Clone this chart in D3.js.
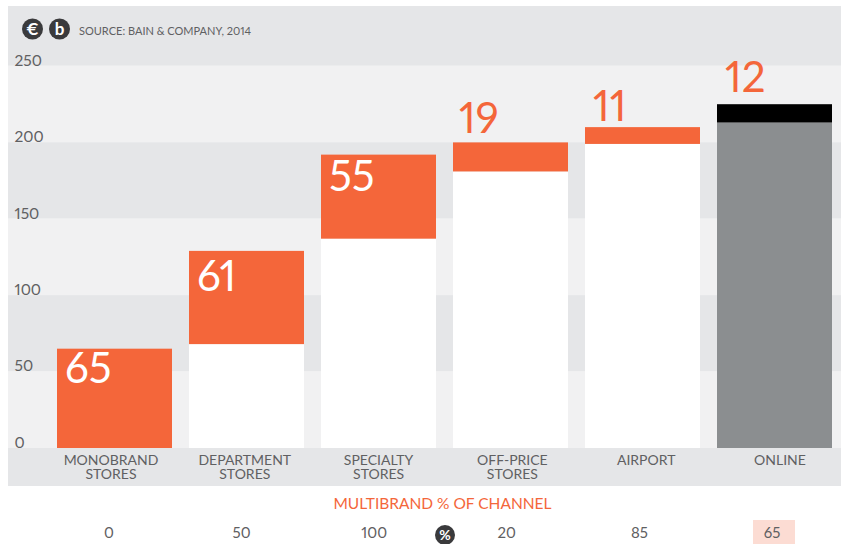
<!DOCTYPE html>
<html>
<head>
<meta charset="utf-8">
<script src="https://cdnjs.cloudflare.com/ajax/libs/d3/7.8.5/d3.min.js"></script>
<style>
  html, body { margin: 0; padding: 0; background: #fff; }
  svg { display: block; }
  text { font-family: Lato, "Open Sans", sans-serif; font-variant-numeric: proportional-nums; }
</style>
</head>
<body>
<svg id="chart" width="841" height="544"></svg>
<script>
// Luxury sales by channel, in EUR billions
const channels = ["MONOBRAND STORES", "DEPARTMENT STORES", "SPECIALTY STORES", "OFF-PRICE STORES", "AIRPORT", "ONLINE"];
const channelLines = [["MONOBRAND", "STORES"], ["DEPARTMENT", "STORES"], ["SPECIALTY", "STORES"], ["OFF-PRICE", "STORES"], ["AIRPORT"], ["ONLINE"]];
const bases = [0, 68, 137, 181, 199, 213];
const increments = [65, 61, 55, 19, 11, 12];
const multibrandShare = [0, 50, 100, 20, 85, 65];
const yTicks = [0, 50, 100, 150, 200, 250];
const highlightedShare = "ONLINE";

const orange = "#f4663a", bandDark = "#e5e6e8", bandLight = "#f1f1f2", ink = "#5f6062", badge = "#3a3a3c";

const svg = d3.select("#chart");
const y = d3.scaleLinear().domain([0, 250]).range([448, 66]);
const x = d3.scaleBand().domain(channels).range([57, 832]).paddingInner(17 / 132).paddingOuter(0);
const xLabel = d3.scalePoint().domain(channels).range([111, 780]);
const xShare = d3.scalePoint().domain(channels).range([109, 772]);

// Alternating background bands, including the header and footer strips
const panelLeft = 8, panelRight = 841;
svg.append("rect").attr("x", panelLeft).attr("y", 6).attr("width", panelRight - panelLeft).attr("height", 480).attr("fill", bandDark);
svg.append("g").selectAll("rect")
  .data([0, 100, 200])
  .join("rect")
  .attr("x", panelLeft).attr("width", panelRight - panelLeft)
  .attr("y", d => y(d + 50) - 0.5).attr("height", d => y(d) - y(d + 50) + 0.5)
  .attr("fill", bandLight);

// Value axis: labels sit just above each band edge
const yAxis = svg.append("g")
  .attr("transform", "translate(14,0)")
  .call(d3.axisLeft(y).tickValues(yTicks).tickSize(0).tickPadding(0));
yAxis.select(".domain").remove();
yAxis.selectAll("text")
  .attr("text-anchor", "start").attr("x", 0.5).attr("dy", "-0.04em")
  .attr("fill", ink).style("font-size", "15.5px").style("font-family", "Lato, sans-serif");

// Stacked columns
const bars = svg.append("g").selectAll("g").data(channels).join("g");
bars.append("rect")
  .attr("x", d => x(d)).attr("width", x.bandwidth())
  .attr("y", (d, i) => y(bases[i])).attr("height", (d, i) => y(0) - y(bases[i]))
  .attr("fill", d => d === "ONLINE" ? "#8b8e90" : "#fff");
bars.append("rect")
  .attr("x", d => x(d)).attr("width", x.bandwidth())
  .attr("y", (d, i) => y(bases[i] + increments[i])).attr("height", (d, i) => y(bases[i]) - y(bases[i] + increments[i]))
  .attr("fill", d => d === "ONLINE" ? "#000" : orange);

// Increment labels: inside the segment when it is tall enough, above it otherwise
const labelDrop = [34, 40, 36, -9.5, -6, -12];
const labelInset = [8, 8, 8, 6, 8, 8];
bars.append("text")
  .attr("x", (d, i) => x(d) + labelInset[i])
  .attr("y", (d, i) => y(bases[i] + increments[i]) + labelDrop[i])
  .attr("fill", (d, i) => labelDrop[i] > 0 ? "#fff" : orange)
  .style("font-size", "42px").style("font-weight", 400)
  .text((d, i) => increments[i]);

// Channel names
const names = svg.append("g").selectAll("text").data(channels).join("text")
  .attr("text-anchor", "middle").attr("fill", ink).style("font-size", "14px");
names.selectAll("tspan").data((d, i) => channelLines[i]).join("tspan")
  .attr("x", function () { return xLabel(d3.select(this.parentNode).datum()); })
  .attr("y", (d, i) => 465 + i * 14)
  .text(d => d);

// Header: unit badges and source note
[["€", 32.5], ["b", 59.5]].forEach(([glyph, cx]) => {
  svg.append("circle").attr("cx", cx).attr("cy", 29).attr("r", 10.5).attr("fill", badge);
  svg.append("text").attr("x", cx).attr("y", 35).attr("text-anchor", "middle")
    .attr("fill", "#fff").style("font-size", "17px").style("font-weight", 700).text(glyph);
});
svg.append("text").attr("x", 79).attr("y", 35).attr("fill", ink)
  .style("font-size", "11px").text("SOURCE: BAIN & COMPANY, 2014");

// Multibrand share row
svg.append("text").attr("x", 442.5).attr("y", 509).attr("text-anchor", "middle").attr("fill", orange)
  .style("font-size", "15.5px").text("MULTIBRAND % OF CHANNEL");
svg.append("rect")
  .attr("x", xShare(highlightedShare) - 19).attr("y", 520).attr("width", 42).attr("height", 24)
  .attr("fill", "#fcdcd3");
svg.append("g").selectAll("text").data(channels).join("text")
  .attr("x", d => xShare(d)).attr("y", 538).attr("text-anchor", "middle")
  .attr("fill", ink).style("font-size", "15px")
  .text((d, i) => multibrandShare[i]);
svg.append("circle").attr("cx", 445).attr("cy", 535).attr("r", 10).attr("fill", badge);
svg.append("text").attr("x", 445).attr("y", 540).attr("text-anchor", "middle")
  .attr("fill", "#fff").style("font-size", "14px").style("font-weight", 700).text("%");
</script>
</body>
</html>
